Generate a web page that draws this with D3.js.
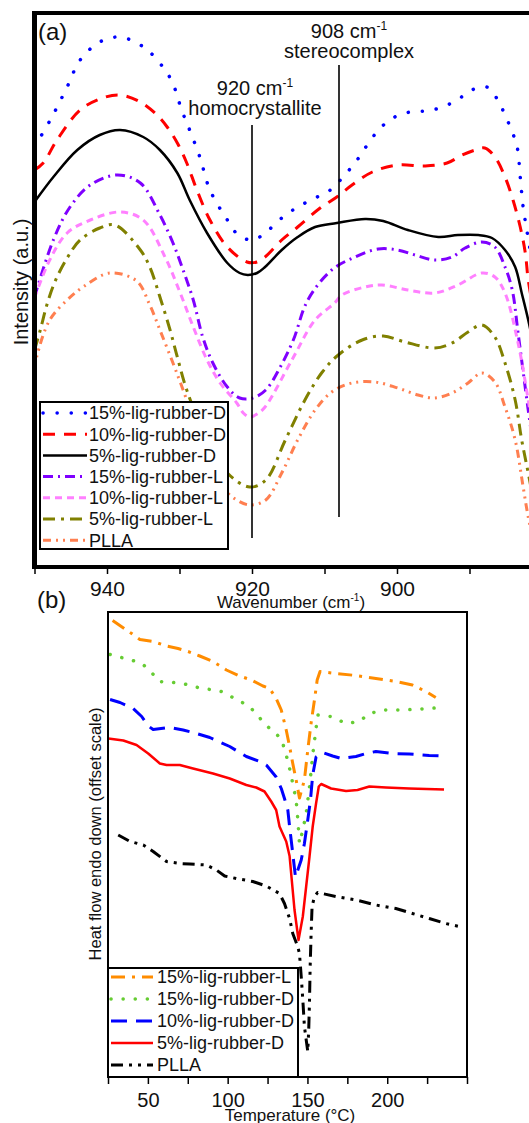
<!DOCTYPE html>
<html>
<head>
<meta charset="utf-8">
<script src="https://cdn.jsdelivr.net/npm/d3@7"></script>
<style>
  html, body { margin: 0; padding: 0; background: #fff; }
  svg { display: block; font-family: "Liberation Sans", Arial, Helvetica, sans-serif; }
</style>
</head>
<body>
<svg id="chart" width="529" height="1123"></svg>
<script>
// ---------- (a) FTIR spectra: [wavenumber (cm-1), intensity (a.u., offset)] ----------
const irNames = ["15%-lig-rubber-D", "10%-lig-rubber-D", "5%-lig-rubber-D",
                 "15%-lig-rubber-L", "10%-lig-rubber-L", "5%-lig-rubber-L", "PLLA"];

const ir15D = [[950,84],[947.6,90],[945.5,96],[943.7,101.4],[941,105],[938.2,106],[935.4,104.4],[934.1,103],
  [932.3,100],[931,97],[929.7,91.4],[928.6,87.4],[927.2,82],[925.8,75.4],[923.4,69.4],[921.9,66.4],
  [919.9,65.4],[918.2,66.8],[915.9,69.8],[913.7,72],[911.3,73.8],[909.2,75.4],[907.2,78.4],[905.5,81.4],
  [904.1,84.4],[902.3,87.8],[900.3,90],[898.2,91],[896.1,91.2],[894.1,91.8],[891.7,93.4],[889.7,95.4],
  [887.6,96],[886.1,93.4],[885.1,90.4],[884.1,87],[883.4,83.8],[883,78],[882.6,72],[882.1,67.4],[881,58]];

const ir10D = [[950,79.4],[948.8,80.8],[946.9,85.4],[943.7,91.4],[940.6,93.8],[938.2,94.4],[935.4,93],
  [933.1,90.4],[931.7,88],[930.3,84.8],[929,80.8],[927.6,75.4],[925.8,69.4],[923.4,64],[920.7,61],
  [919.3,61],[918.2,62],[915.9,65.4],[913.7,68],[910.6,71.8],[908.3,74],[906.2,76.4],[903.4,79],
  [899.9,80.4],[896.1,80.2],[893.1,80.8],[891,82.4],[889.2,83.4],[887.9,83.8],[886.5,82],[885.1,78],
  [884,73.4],[883,68],[882.3,62.8],[881.9,57.4],[881,50]];

const ir5D = [[950,73],[947.4,78],[944.1,83.4],[941,86.4],[938.2,87.4],[935,86],[932.7,83.4],[930.3,78.8],
  [928.6,73.4],[926.2,66.8],[923.4,60.8],[921.7,58.8],[920.6,58.4],[919.3,58.8],[918.2,60],[915.9,63.4],
  [913.7,66],[911.3,68],[908.3,68.8],[904.4,69.6],[901.9,69.2],[898.5,67.4],[894.3,66],[891.6,66.4],
  [888.8,66.4],[886.9,65.8],[885.1,63.4],[883.7,60],[882.8,54.8],[881.9,49.4],[881,43]];

const ir15L = [[950,54],[947.4,65.4],[945.1,72],[942.3,76.4],[938.6,78.4],[935.4,76.8],[932.7,70.4],
  [930.9,64.8],[929.5,59.4],[928.1,53.4],[926.8,46],[925.4,40.8],[923.4,36],[921.7,33.8],[919.9,33.8],
  [918.1,35.4],[916.1,40],[914.3,45.4],[912.3,53.4],[909,59.4],[905.8,62],[902.6,63.6],[899.9,63.4],
  [897.5,62.4],[894.8,61.4],[892.4,62],[890.6,63.8],[888.3,65],[886.5,64],[885.1,60],[884.1,55.4],
  [883.3,46.8],[881.9,31.4],[881,22]];

const ir10L = [[950,53.8],[947.9,61.4],[945.5,66.8],[942.3,69.4],[938.2,71],[935,69.4],[932,62],
  [929.9,54.8],[928.1,48],[926.2,41.4],[924.4,36.8],[922.1,32.8],[921.2,30.8],[920.3,30],[919.3,30.6],
  [918.2,32],[914.5,41.4],[911.3,49.4],[908.6,52.8],[907.6,54.4],[904.4,56],[902.1,56.4],[898.5,55.4],
  [894.8,54.8],[891.6,56.4],[888.3,58.8],[886.5,58],[885.1,54.8],[883.3,44.8],[881.9,33.4],[881,25]];

const ir5L = [[950,43.4],[949.2,47.4],[948.3,52.4],[947.2,57],[945.5,61.8],[943.7,65.4],[941,67.8],
  [938.9,68.4],[935.4,63.4],[934.1,60],[932.7,54],[931.3,47.4],[930.3,42],[929,35.4],[926.2,25.4],
  [923.4,18.8],[920.3,16],[918.1,17.4],[915.4,25.4],[912.7,33.4],[910.3,39],[908.1,42.4],[904.8,45.4],
  [901.9,46.2],[898.9,45],[894.8,43.8],[892.4,44.8],[890.2,47],[888.3,48.4],[886.5,46],[885.1,40.8],
  [883.7,33.4],[882.8,25.4],[881.9,18.8],[881,12]];

const irPLLA = [[950,39.4],[949.7,42],[947.9,49.4],[945.5,53.4],[943.3,56],[939.6,58.8],[935.9,57.2],
  [934.1,52.4],[932.7,47.4],[930.9,40.8],[929.5,35.4],[926.5,23.4],[923.7,15.4],[922.1,13.4],[920.3,12.4],
  [918.1,13.4],[915.9,18.8],[913.7,25.4],[911.3,31.4],[909,35],[906.2,36.8],[903,37],[899.9,35.8],
  [897.1,34.4],[894.8,33.8],[892.4,34.8],[890.2,36.8],[888.3,38.8],[886.5,37],[885.1,32],[883.7,25.4],
  [882.6,16],[881.9,10],[881,4]];

const irValues = [ir15D, ir10D, ir5D, ir15L, ir10L, ir5L, irPLLA];
const irTicks = [950, 940, 930, 920, 910, 900, 890];
const irTickLabels = [940, 920, 900];
const irMarkers = [920, 908];

// ---------- (b) DSC heating curves: [temperature (°C), heat flow (offset)] ----------
const dscNames = ["15%-lig-rubber-L", "15%-lig-rubber-D", "10%-lig-rubber-D", "5%-lig-rubber-D", "PLLA"];

const dsc15L = [[27.9,91.3],[39.8,88.7],[45,87.5],[53.3,87.1],[61.7,86.2],[68.9,85.7],[75.2,85.1],
  [82.5,84.2],[90.8,83.1],[99.2,81.4],[107.5,80.2],[114.8,79.4],[122.1,78.2],[126.3,77.7],[130.4,75.7],
  [133.6,73.4],[136.7,69.4],[138.8,66.1],[140.8,62.7],[142.9,59.4],[145,55.8],[148.1,59.4],[150.2,65.4],
  [152.3,70.8],[154.4,75.4],[156.1,79.4],[157.9,81.1],[167.9,80.7],[180.4,80.3],[192.9,79.7],
  [205.4,79.1],[215.8,78.4],[224.2,77.1],[230.4,75.9]];

const dsc15D = [[26.3,84.5],[35.6,83.7],[45,82.9],[50.2,81.7],[57.1,79.1],[65.8,78.9],[73.1,78.6],
  [81.4,77.9],[90.8,77.4],[96.1,77.1],[104.4,75.7],[113.8,74.1],[118.9,72.2],[126.3,69.7],[133.6,67.7],
  [136.7,64.4],[138.8,61.7],[140.8,58.7],[142.9,55.4],[144,51.4],[145,46.7],[147.1,49.4],[149.2,52.7],
  [151.3,58.1],[153.3,64.4],[155.4,69.7],[156.4,72.4],[164.8,72.1],[174.2,70.7],[182.5,71.1],
  [188.8,72.7],[198.1,73.4],[209.6,73.4],[221.1,73.6],[234.6,73.9]];

const dsc10D = [[26.3,75.5],[32.5,74.9],[40.8,73.7],[46.1,72.1],[50.2,70.2],[53.3,69.5],[63.8,69.9],
  [72.1,69.4],[78.3,68.9],[88.8,67.9],[101.3,66.1],[111.7,64.1],[120,63.1],[124.2,62.4],[130.4,60],
  [133.6,57.7],[135.6,55.7],[137.7,53.4],[138.8,50.1],[140.8,44.7],[142.5,40],[146.1,43.4],[148.1,46.7],
  [150.2,51.4],[151.9,55.4],[153.3,60.4],[155.4,64],[159.6,64.9],[165.8,64.2],[171.1,63.7],[180.4,64.1],
  [186.7,64.7],[192.9,65.1],[203.3,64.7],[213.8,64.6],[226.3,64.3],[234.6,64.2]];

const dsc5D = [[25.2,67.7],[34.6,67.3],[42.9,66.4],[50.2,64.7],[57.5,62.7],[61.7,62.4],[70,62.4],
  [78.3,61.7],[90.8,60.7],[101.3,59.7],[111.7,58.4],[117.9,57.9],[123.1,57.1],[127.3,55.1],[130.4,53.4],
  [132.5,50.1],[136.7,47.1],[138.8,44.2],[139.8,40.7],[141.9,33.4],[144.4,27.4],[147.1,32.1],[149.2,38.1],
  [151.3,44.1],[153.3,50.1],[155.4,54.7],[157.1,58.1],[158.6,58.6],[164.8,57.7],[174.2,57.2],
  [181.4,57.4],[188.8,58.1],[199.2,57.9],[213.8,57.7],[235.6,57.5]];

const dscPLLA = [[31.4,48.4],[38.8,47.1],[47.1,46.4],[53.3,45.1],[61.7,43.1],[70,42.7],[76.3,42.6],
  [86.7,42.4],[92.9,41.4],[98.1,40.2],[105.4,39.7],[115.8,39.1],[124.2,38.2],[132.5,36.7],[135.6,34.7],
  [138.8,31.7],[140.8,28.7],[143.9,26.1],[145,24.7],[146.1,20.1],[147.1,15.4],[148.1,10.1],[150.2,5.1],
  [150.8,9.4],[151.3,15.4],[151.7,22.1],[152.3,28.7],[152.9,34.1],[154.4,36.1],[156.4,36.9],[167.9,36.1],
  [180.4,35.4],[192.9,34.4],[205.4,33.7],[215.8,32.7],[226.3,31.7],[236.7,30.7],[245,30.1]];

const dscValues = [dsc15L, dsc15D, dsc10D, dsc5D, dscPLLA];
const dscTicks = [25, 50, 75, 100, 125, 150, 175, 200, 225, 250];
const dscTickLabels = [50, 100, 150, 200];

// ---------- line styles ----------
const irStyle = {
  "15%-lig-rubber-D": { color: "#0000ff", width: 3.5, dash: "0.1,14", cap: "round" },
  "10%-lig-rubber-D": { color: "#ff0000", width: 3,   dash: "12,9",   cap: "butt" },
  "5%-lig-rubber-D":  { color: "#000000", width: 2.5, dash: null,     cap: "butt" },
  "15%-lig-rubber-L": { color: "#7f00ff", width: 3,   dash: "10,5,2,5", cap: "butt" },
  "10%-lig-rubber-L": { color: "#ff80ff", width: 3,   dash: "7,5",    cap: "butt" },
  "5%-lig-rubber-L":  { color: "#808000", width: 3,   dash: "12,6,3,6", cap: "butt" },
  "PLLA":             { color: "#ff7f50", width: 3,   dash: "8,5,2,5,2,5", cap: "butt" }
};
const dscStyle = {
  "15%-lig-rubber-L": { color: "#ff8c00", width: 3,   dash: "14,7,3,7", cap: "butt" },
  "15%-lig-rubber-D": { color: "#66cc33", width: 3.5, dash: "0.1,12", cap: "round" },
  "10%-lig-rubber-D": { color: "#0000ff", width: 3,   dash: "16,9",   cap: "butt" },
  "5%-lig-rubber-D":  { color: "#ff0000", width: 2.5, dash: null,     cap: "butt" },
  "PLLA":             { color: "#000000", width: 3,   dash: "12,6,3,6,3,6", cap: "butt" }
};

const svg = d3.select("#chart");

function styleLine(sel, st) {
  sel.attr("fill", "none")
     .attr("stroke", st.color)
     .attr("stroke-width", st.width)
     .attr("stroke-linecap", st.cap)
     .attr("stroke-linejoin", "round")
     .attr("stroke-dasharray", st.dash);
}

// =================== Panel (a) ===================
const A = { left: 34.5, right: 542, top: 13, bottom: 567 };
const xA = d3.scaleLinear().domain([950, 880]).range([A.left, A.right]);
const yA = d3.scaleLinear().domain([0, 100]).range([A.bottom, 67]);

const defs = svg.append("defs");
defs.append("clipPath").attr("id", "clipA").append("rect")
  .attr("x", A.left).attr("y", A.top).attr("width", A.right - A.left).attr("height", A.bottom - A.top);
defs.append("clipPath").attr("id", "clipB").append("rect")
  .attr("x", 108).attr("y", 612).attr("width", 359).attr("height", 465);

const gA = svg.append("g");
const lineA = d3.line().x(d => xA(d[0])).y(d => yA(d[1])).curve(d3.curveCatmullRom.alpha(0.5));

const curvesA = gA.append("g").attr("clip-path", "url(#clipA)");
irNames.forEach((name, i) => {
  curvesA.append("path").datum(irValues[i]).attr("d", lineA).call(styleLine, irStyle[name]);
});

// band markers
const markerSpan = { 920: [125, 538], 908: [65, 517] };
irMarkers.forEach(w => {
  gA.append("line")
    .attr("x1", xA(w)).attr("x2", xA(w))
    .attr("y1", markerSpan[w][0]).attr("y2", markerSpan[w][1])
    .attr("stroke", "#000").attr("stroke-width", 1.6);
});

function waveLabel(g, x, y, num) {
  const t = g.append("text").attr("x", x).attr("y", y).attr("text-anchor", "middle")
    .attr("font-size", 20).attr("fill", "#111");
  t.append("tspan").text(num + " cm");
  t.append("tspan").attr("dy", -8).attr("font-size", 12).text("-1");
  return t;
}
waveLabel(gA, 255, 95, 920);
gA.append("text").attr("x", 255).attr("y", 115).attr("text-anchor", "middle")
  .attr("font-size", 20).attr("fill", "#111").text("homocrystallite");
waveLabel(gA, 349, 38, 908);
gA.append("text").attr("x", 349, 0).attr("y", 58).attr("text-anchor", "middle")
  .attr("font-size", 20).attr("fill", "#111").text("stereocomplex");

// legend (a)
const legA = gA.append("g");
legA.append("rect").attr("x", 40).attr("y", 402).attr("width", 188).attr("height", 147)
  .attr("fill", "#fff").attr("stroke", "#000").attr("stroke-width", 2);
irNames.forEach((name, i) => {
  const yy = 413 + i * 21.2;
  legA.append("line").attr("x1", 43).attr("x2", 87).attr("y1", yy).attr("y2", yy)
    .call(styleLine, irStyle[name]);
  legA.append("text").attr("x", 89).attr("y", yy).attr("dy", "0.35em")
    .attr("font-size", 18).attr("fill", "#111").text(name);
});

// frame + axis (a)
gA.append("line").attr("x1", A.left - 2).attr("x2", 529).attr("y1", A.top).attr("y2", A.top)
  .attr("stroke", "#000").attr("stroke-width", 4);
gA.append("line").attr("x1", A.left).attr("x2", A.left).attr("y1", A.top - 2).attr("y2", A.bottom + 2)
  .attr("stroke", "#000").attr("stroke-width", 5);

const axA = d3.axisBottom(xA).tickValues(irTicks).tickSize(7).tickPadding(7)
  .tickFormat(d => irTickLabels.includes(d) ? d : "");
const gAxA = gA.append("g").attr("transform", `translate(0,${A.bottom})`).call(axA);
gAxA.select(".domain").remove();
gAxA.selectAll(".tick line").attr("stroke", "#000").attr("stroke-width", 1.5);
gAxA.selectAll(".tick text").attr("font-size", 21).attr("fill", "#111")
  .attr("font-family", "\"Liberation Sans\", Arial, sans-serif");
gA.append("line").attr("x1", A.left - 2).attr("x2", 529).attr("y1", A.bottom).attr("y2", A.bottom)
  .attr("stroke", "#000").attr("stroke-width", 4);

gA.append("text").attr("transform", "translate(28,282) rotate(-90)").attr("text-anchor", "middle")
  .attr("font-size", 20).attr("fill", "#111").text("Intensity (a.u.)");
const wt = gA.append("text").attr("x", 291).attr("y", 608).attr("text-anchor", "middle")
  .attr("font-size", 17).attr("fill", "#111");
wt.append("tspan").text("Wavenumber (cm");
wt.append("tspan").attr("dy", -7).attr("font-size", 10).text("-1");
wt.append("tspan").attr("dy", 7).text(")");

gA.append("text").attr("x", 38).attr("y", 40).attr("font-size", 24).attr("fill", "#111").text("(a)");

// =================== Panel (b) ===================
const B = { left: 108, right: 467, top: 612, bottom: 1077 };
const xB = d3.scaleLinear().domain([25, 250]).range([B.left, B.right]);
const yB = d3.scaleLinear().domain([0, 90]).range([B.bottom, 627]);

const gB = svg.append("g");
gB.append("rect").attr("x", B.left).attr("y", B.top).attr("width", B.right - B.left)
  .attr("height", B.bottom - B.top).attr("fill", "#fff");

const lineB = d3.line().x(d => xB(d[0])).y(d => yB(d[1])).curve(d3.curveLinear);
const curvesB = gB.append("g").attr("clip-path", "url(#clipB)");
dscNames.forEach((name, i) => {
  curvesB.append("path").datum(dscValues[i]).attr("d", lineB).call(styleLine, dscStyle[name]);
});

// legend (b)
const legB = gB.append("g");
legB.append("rect").attr("x", 108).attr("y", 968).attr("width", 190).attr("height", 109)
  .attr("fill", "#fff").attr("stroke", "#000").attr("stroke-width", 2);
dscNames.forEach((name, i) => {
  const yy = 977 + i * 22;
  legB.append("line").attr("x1", 111).attr("x2", 153).attr("y1", yy).attr("y2", yy)
    .call(styleLine, dscStyle[name]);
  legB.append("text").attr("x", 157).attr("y", yy).attr("dy", "0.35em")
    .attr("font-size", 18).attr("fill", "#111").text(name);
});

gB.append("rect").attr("x", B.left).attr("y", B.top).attr("width", B.right - B.left)
  .attr("height", B.bottom - B.top).attr("fill", "none").attr("stroke", "#000").attr("stroke-width", 2);

const axB = d3.axisBottom(xB).tickValues(dscTicks).tickSize(7).tickPadding(9)
  .tickFormat(d => dscTickLabels.includes(d) ? d : "");
const gAxB = gB.append("g").attr("transform", `translate(0,${B.bottom})`).call(axB);
gAxB.select(".domain").remove();
gAxB.selectAll(".tick line").attr("stroke", "#000").attr("stroke-width", 1.5);
gAxB.selectAll(".tick text").attr("font-size", 20).attr("fill", "#111")
  .attr("font-family", "\"Liberation Sans\", Arial, sans-serif");

gB.append("text").attr("transform", "translate(101,834) rotate(-90)").attr("text-anchor", "middle")
  .attr("font-size", 16.5).attr("fill", "#111").text("Heat flow endo down (offset scale)");
gB.append("text").attr("x", 290).attr("y", 1121).attr("text-anchor", "middle")
  .attr("font-size", 17).attr("fill", "#111").text("Temperature (°C)");

gB.append("text").attr("x", 37).attr("y", 608).attr("font-size", 24).attr("fill", "#111").text("(b)");
</script>
</body>
</html>
